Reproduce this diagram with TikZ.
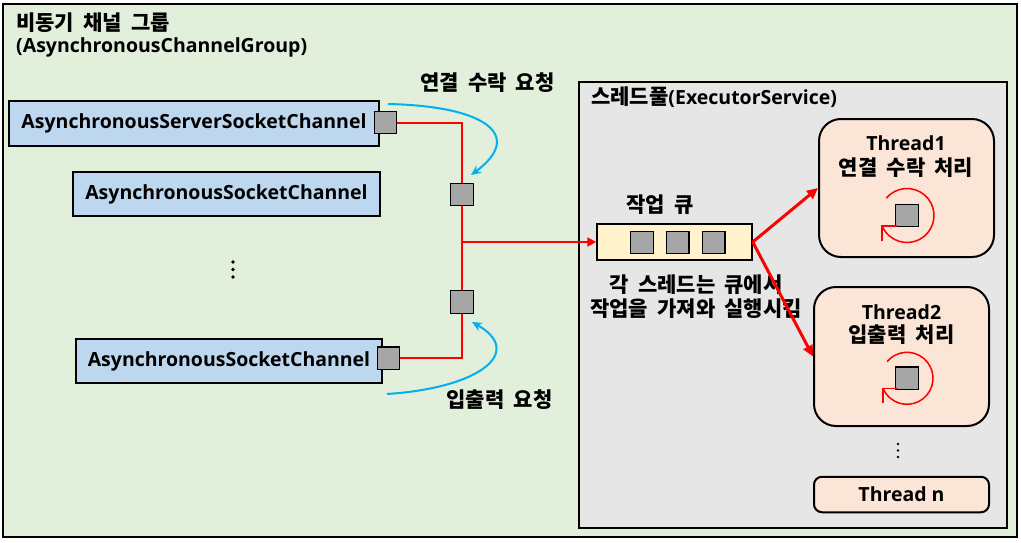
\documentclass[tikz,border=0pt]{standalone}
\usepackage{fontspec}
\newfontfamily\os{Open Sans}
\newfontfamily\kr[WordSpace=1.9]{Noto Sans CJK KR}
\usetikzlibrary{arrows.meta}
\definecolor{bggreen}{HTML}{E2EFDA}
\definecolor{boxblue}{HTML}{BDD7EE}
\definecolor{sqgray}{HTML}{A6A6A6}
\definecolor{poolgray}{HTML}{E7E6E6}
\definecolor{queuey}{HTML}{FFF2CC}
\definecolor{thrd}{HTML}{FBE5D6}
\definecolor{cblue}{HTML}{00B0F0}
\newcommand{\latf}{\os\bfseries\fontsize{19.5}{23}\selectfont}
\newcommand{\korf}{\kr\bfseries\fontsize{21}{23}\selectfont}
\tikzset{
  lbl/.style={inner sep=0, font=\latf},
  krl/.style={inner sep=0, font=\korf},
  chanbox/.style={draw, line width=2.5, fill=boxblue, inner sep=0, font=\latf},
  sqbox/.style={draw, line width=1.3, fill=sqgray, minimum width=22.5, minimum height=22.5, inner sep=0},
  thbox/.style={draw, line width=2, fill=thrd, rounded corners=22, inner sep=0},
  redline/.style={draw=red, line width=2},
  redarrow/.style={draw=red, line width=2, -{Triangle[length=9,width=9]}},
  redarrowthick/.style={draw=red, line width=3, -{Triangle[length=11,width=10]}},
  bluearr/.style={draw=cblue, line width=2, -{Stealth[length=10,width=9]}},
  redthin/.style={draw=red, line width=1.5},
}
\begin{document}
\begin{tikzpicture}[x=1pt,y=-1pt]
\useasboundingbox (0,0) rectangle (1021,543);
\fill[white] (0,0) rectangle (1021,543);
% outer group
\node[draw, line width=2.5, fill=bggreen, minimum width=1014, minimum height=533, inner sep=0] (grp) at (510,270.5) {};
\node[krl, anchor=west] (t1txt) at (16,22.5) {비동기 채널 그룹};
\node[lbl, anchor=west] (t2txt) at (16,47.5) {(AsynchronousChannelGroup)};
% channels
\node[chanbox, minimum width=370, minimum height=45] (srv) at (194,123.5) {AsynchronousServerSocketChannel};
\node[chanbox, minimum width=307, minimum height=44] (ch1) at (226.5,194) {AsynchronousSocketChannel};
\node[chanbox, minimum width=306, minimum height=44] (ch2) at (229,361) {AsynchronousSocketChannel};
\fill (233,262) circle (1.8) (233,269.5) circle (1.8) (233,277) circle (1.8);
% thread pool
\node[draw, line width=2.5, fill=poolgray, minimum width=428, minimum height=446, inner sep=0] (pool) at (793,305) {};
\node[inner sep=0, anchor=west] (pooltxt) at (591,97) {{\korf 스레드풀}{\latf (ExecutorService)}};
% squares
\node[sqbox] (sq1) at (385.5,122.5) {};
\node[sqbox] (sq4) at (388.5,358.3) {};
\node[sqbox] (sqA) at (462,194.5) {};
\node[sqbox] (sqB) at (462,302) {};
% red lines
\draw[redline] (sq1.east) -| (sqA.north);
\draw[redline] (sqA.south) -- (sqB.north);
\draw[redline] (sq4.east) -| (sqB.south);
% queue
\node[draw, line width=1.5, fill=queuey, minimum width=155, minimum height=36, inner sep=0] (queue) at (674.5,242) {};
\node[sqbox] (q1) at (642,242.5) {};
\node[sqbox] (q2) at (677.8,242.5) {};
\node[sqbox] (q3) at (713.8,242.5) {};
\coordinate (j) at (462,242);
\draw[redarrow] (j) -- (queue.west);
\node[krl] (qtxt) at (660,205) {작업 큐};
\node[krl, align=center, font=\kr\bfseries\fontsize{21}{23.5}\selectfont] (qdesc) at (696,296.5) {각 스레드는 큐에서\\작업을 가져와 실행시킴};
% blue curves
\node[krl] (req1) at (487.5,83) {연결 수락 요청};
\node[krl] (req2) at (499.5,400) {입출력 요청};
\coordinate (b1s) at (388,104);
\coordinate (b1e) at (471,175);
\draw[bluearr] (b1s) .. controls (485,106) and (525,135) .. (b1e);
\coordinate (b2s) at (387,394);
\coordinate (b2e) at (472,322);
\draw[bluearr] (b2s) .. controls (480,388) and (525,352) .. (b2e);
% threads
\node[thbox, minimum width=175, minimum height=138] (th1) at (906.5,188) {};
\node[thbox, minimum width=175, minimum height=139] (th2) at (901.5,356.5) {};
\node[thbox, rounded corners=8, minimum width=175, minimum height=35.5, font=\latf] (thn) at (901.5,494.5) {Thread n};
\node[lbl] (th1a) at (906,143) {Thread1};
\node[krl] (th1b) at (906,168) {연결 수락 처리};
\node[lbl] (th2a) at (901.5,312) {Thread2};
\node[krl] (th2b) at (901.5,335) {입출력 처리};
\fill (898,444) circle (1.3) (898,450.5) circle (1.3) (898,457) circle (1.3);
\draw[redarrowthick] (queue.east) -- (th1.west);
\draw[redarrowthick] (queue.east) -- (th2.west);
% circular arrows
\node[sqbox] (c1) at (907,215.5) {};
\draw[redthin] ([shift={(-140:27)}]c1.center) arc[start angle=-140, end angle=157, radius=27] coordinate (e1);
\draw[redthin] (e1) ++(15,0) -- (e1) -- ++(0,15);
\node[sqbox] (c2) at (907,378.3) {};
\draw[redthin] ([shift={(-140:26)}]c2.center) arc[start angle=-140, end angle=157, radius=26] coordinate (e2);
\draw[redthin] (e2) ++(15,0) -- (e2) -- ++(0,15);
\end{tikzpicture}
\end{document}
